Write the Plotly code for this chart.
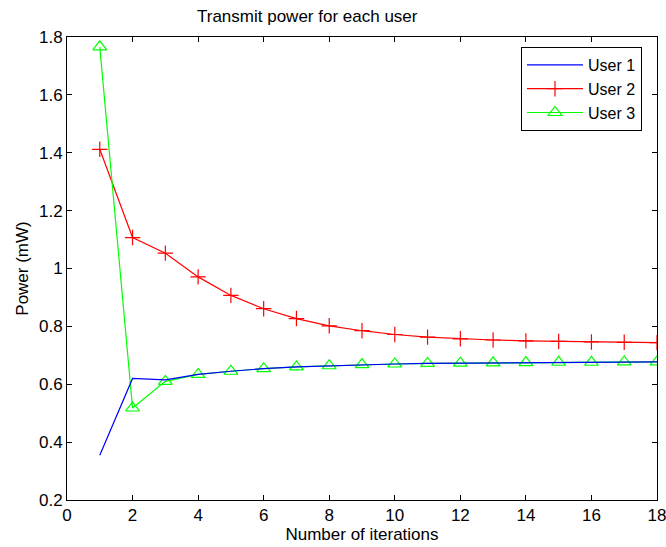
import plotly.graph_objects as go

iterations = list(range(1, 19))
user1 = [0.355, 0.620, 0.615, 0.634, 0.645, 0.654, 0.660, 0.664, 0.668,
         0.670, 0.672, 0.673, 0.674, 0.675, 0.676, 0.676, 0.677, 0.677]
user2 = [1.412, 1.107, 1.053, 0.971, 0.907, 0.861, 0.827, 0.802, 0.785,
         0.772, 0.763, 0.757, 0.753, 0.750, 0.748, 0.746, 0.745, 0.744]
user3 = [1.766, 0.518, 0.610, 0.634, 0.645, 0.654, 0.660, 0.664, 0.668,
         0.670, 0.672, 0.673, 0.674, 0.675, 0.676, 0.676, 0.677, 0.677]

x_ticks = list(range(0, 19, 2))
y_tickvals = [0.2, 0.4, 0.6, 0.8, 1.0, 1.2, 1.4, 1.6, 1.8]
y_ticktext = ["0.2", "0.4", "0.6", "0.8", "1", "1.2", "1.4", "1.6", "1.8"]

FONT = "Liberation Sans, Arial, Helvetica, sans-serif"
FS = 17

fig = go.Figure()
fig.add_trace(go.Scatter(x=iterations, y=user2, mode="lines+markers", name="User 2",
                         legendrank=2,
                         line=dict(color="#ff0000", width=1.2),
                         marker=dict(symbol="cross-thin", size=11,
                                     line=dict(color="#ff0000", width=1.2))))
fig.add_trace(go.Scatter(x=iterations, y=user3, mode="lines+markers", name="User 3",
                         legendrank=3,
                         line=dict(color="#00ff00", width=1.2),
                         marker=dict(symbol="triangle-up-open", size=12,
                                     color="#00ff00",
                                     line=dict(color="#00ff00", width=1.2))))
fig.add_trace(go.Scatter(x=iterations, y=user1, mode="lines", name="User 1",
                         legendrank=1,
                         line=dict(color="#0000ff", width=1.2)))

axis_common = dict(showline=True, linecolor="black", linewidth=1, mirror="ticks",
                   ticks="inside", ticklen=5, tickcolor="black", tickwidth=1,
                   showgrid=False, zeroline=False, ticklabeloverflow="allow",
                   automargin=False,
                   tickfont=dict(family=FONT, size=FS, color="black"))

fig.update_layout(
    width=666, height=547,
    margin=dict(l=67, r=9, t=37, b=47, autoexpand=False),
    paper_bgcolor="white", plot_bgcolor="white",
    font=dict(family=FONT, color="black"),
    title=dict(text="Transmit power for each user", x=(197 - 67) / 590, xref="paper",
               y=1 - 16 / 547, yref="container", yanchor="middle", xanchor="left",
               font=dict(family=FONT, size=FS, color="black")),
    xaxis=dict(range=[0, 18], tickvals=x_ticks,
               title=dict(text="Number of iterations", standoff=2,
                          font=dict(family=FONT, size=FS, color="black")),
               **axis_common),
    yaxis=dict(range=[0.2, 1.8], tickvals=y_tickvals, ticktext=y_ticktext,
               title=dict(text="Power (mW)", standoff=6,
                          font=dict(family=FONT, size=FS, color="black")),
               **axis_common),
    legend=dict(x=(642 - 67) / 590, y=(500 - 47) / 463, xanchor="right", yanchor="top",
                bgcolor="white", bordercolor="black", borderwidth=1,
                font=dict(family=FONT, size=16, color="black"),
                itemwidth=56, tracegroupgap=0),
    showlegend=True,
)

fig.write_html("out.html", config={"displayModeBar": False},
               post_script="document.body.style.margin='0px';")
